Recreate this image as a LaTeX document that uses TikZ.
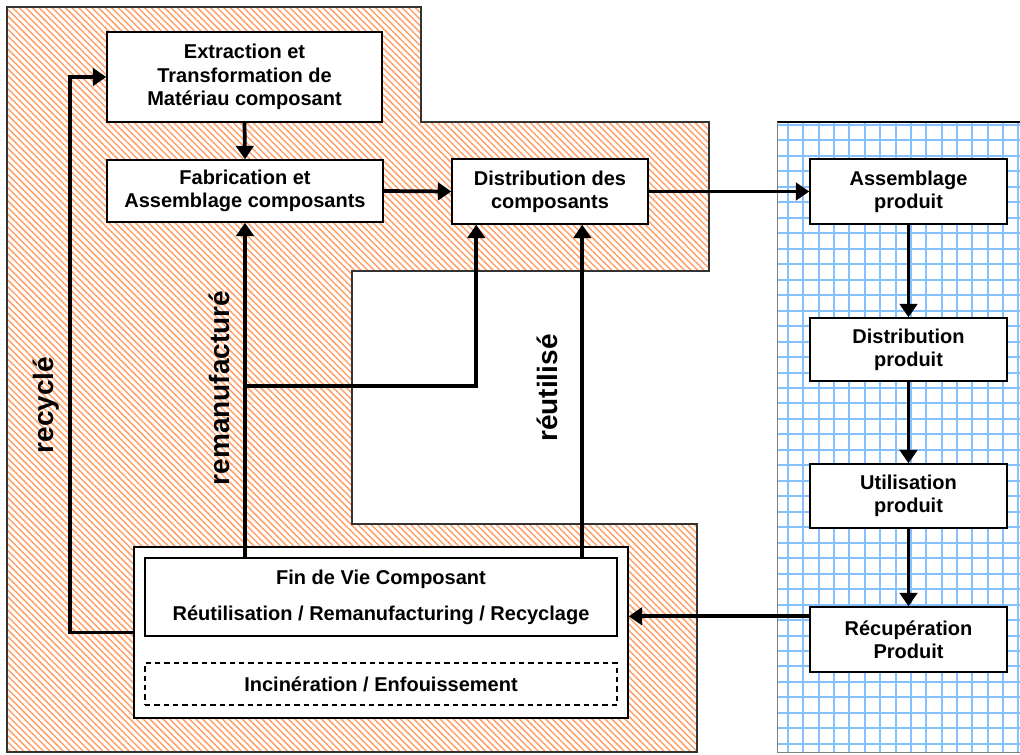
\documentclass[tikz,border=0pt]{standalone}
\usepackage{fontspec}
\setmainfont{Liberation Sans}
\usetikzlibrary{patterns.meta,arrows.meta}
\definecolor{hatch}{RGB}{255,160,105}
\definecolor{gridblue}{RGB}{135,192,255}
\begin{document}
\begin{tikzpicture}[x=0.75pt,y=-0.75pt,
  box/.style={draw,fill=white,line width=1.1pt,inner sep=0pt,align=center,
    font=\bfseries\fontsize{15}{17.5}\selectfont},
  conn/.style={line width=2.8pt,-{Triangle[length=10pt,width=13pt]}},
  lbl/.style={rotate=90,inner sep=0pt,font=\bfseries\fontsize{21}{25}\selectfont}]
\useasboundingbox (0,0) rectangle (1020,754);
\fill[white] (0,0) rectangle (1020,754);
% hatched region
\path[pattern={Lines[angle=-45,distance=3.5pt,line width=1.1pt]},pattern color=hatch]
  (7,7) -- (421,7) -- (421,122) -- (709,122) -- (709,271) -- (352,271) -- (352,524)
  -- (697,524) -- (697,752) -- (7,752) -- cycle;
\draw[line width=0.8pt,black!80]
  (7,7) -- (421,7) -- (421,122) -- (709,122) -- (709,271) -- (352,271) -- (352,524)
  -- (697,524) -- (697,752) -- (7,752) -- cycle;
% grid region
\fill[white] (777,122) rectangle (1020,752);
\foreach \i in {0,...,15}
  \draw[gridblue,line width=1.5pt] ({788+15.36*\i},122) -- ({788+15.36*\i},752);
\foreach \j in {0,...,40}
  \draw[gridblue,line width=1.5pt] (777,{125+15.47*\j}) -- (1020,{125+15.47*\j});
\draw[black,line width=1.2pt] (777,122) -- (1020,122);
\draw[gray,line width=0.6pt] (777,122) -- (777,752) -- (1020,752);
% boxes
\node[box,minimum width=206.25pt,minimum height=67.5pt] (ext) at (244.5,77)
  {Extraction et\\Transformation de\\Matériau composant};
\node[box,minimum width=207pt,minimum height=46.5pt] (fab) at (245,191)
  {Fabrication et\\Assemblage composants};
\node[box,minimum width=147pt,minimum height=48.75pt] (dc) at (550,191.5)
  {Distribution des\\composants};
\node[box,minimum width=147.75pt,minimum height=48.75pt] (ap) at (908.5,191.5)
  {Assemblage\\produit};
\node[box,minimum width=147.75pt,minimum height=47.25pt] (dp) at (908.5,349.5)
  {Distribution\\produit};
\node[box,minimum width=147.75pt,minimum height=48pt] (up) at (908.5,496)
  {Utilisation\\produit};
\node[box,minimum width=147.75pt,minimum height=48.75pt] (rp) at (908.5,639.5)
  {Récupération\\Produit};
\node[box,minimum width=370.5pt,minimum height=128.25pt] (fvo) at (381,632.5) {};
\node[box,minimum width=354pt,minimum height=58.5pt] (fvi) at (381,597)
  {Fin de Vie Composant\\[9.5pt]Réutilisation / Remanufacturing / Recyclage};
\node[box,dashed,dash pattern=on 4pt off 3pt,line width=0.9pt,
  minimum width=354pt,minimum height=31.5pt] (inc) at (381,684)
  {Incinération / Enfouissement};
% connectors
\coordinate (rc) at (70,77);
\draw[conn] (fvo.west) -| (rc) -- (ext.west);
\draw[conn] (ext.south) -- (fab.north);
\draw[conn] (fab.east) -- (dc.west);
\draw[conn] (dc.east) -- (ap.west);
\draw[conn] (ap.south) -- (dp.north);
\draw[conn] (dp.south) -- (up.north);
\draw[conn] (up.south) -- (rp.north);
\coordinate (ra) at ([yshift=-7.5pt]rp.north west);
\draw[conn] (ra) -- (ra -| fvo.east);
\draw[conn] (fab.south |- fvi.north) -- (fab.south);
\coordinate (br) at (245,386);
\coordinate (d1) at ([xshift=18.75pt]dc.south west);
\draw[conn] (br) -| (d1);
\coordinate (d2) at ([xshift=98.25pt]dc.south west);
\draw[conn] (d2 |- fvi.north) -- (d2);
% labels
\node[lbl] (lrec) at (46,405) {recyclé};
\node[lbl] (lrem) at (219,388) {remanufacturé};
\node[lbl] (lreu) at (547,388) {réutilisé};
\end{tikzpicture}
\end{document}
